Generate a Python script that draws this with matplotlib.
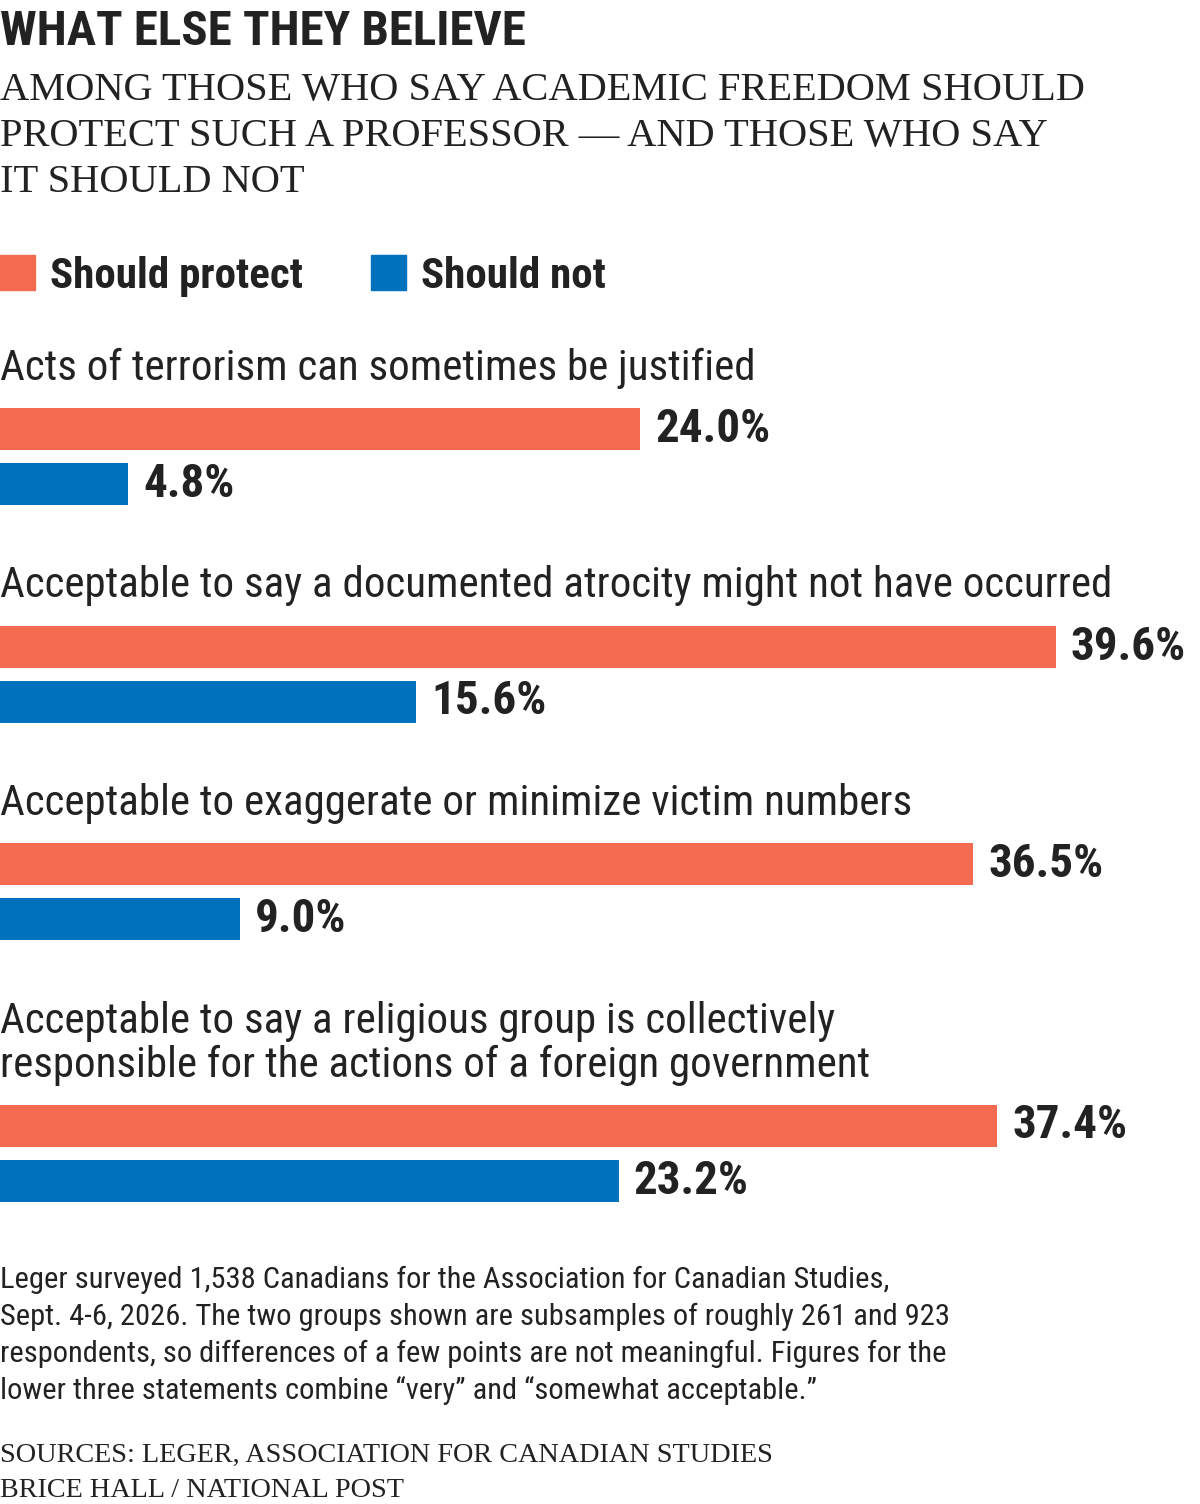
import matplotlib
matplotlib.use("Agg")
import matplotlib.pyplot as plt
from matplotlib.patches import Rectangle

# data
categories = [
    "Acts of terrorism can sometimes be justified",
    "Acceptable to say a documented atrocity might not have occurred",
    "Acceptable to exaggerate or minimize victim numbers",
    "Acceptable to say a religious group is collectively\nresponsible for the actions of a foreign government",
]
should_protect = [24.0, 39.6, 36.5, 37.4]
should_not = [4.8, 15.6, 9.0, 23.2]
series_names = ["Should protect", "Should not"]

ORANGE = "#F26A4F"
BLUE = "#0071BC"
INK = "#222222"
SANS = ["Roboto Condensed", "Liberation Sans Narrow", "DejaVu Sans"]
SERIF = ["Liberation Serif", "DejaVu Serif"]

W, H = 1200, 1504
fig = plt.figure(figsize=(W / 100, H / 100), dpi=100)
fig.patch.set_facecolor("white")


def fy(y):
    return 1 - y / H


def fx(x):
    return x / W


def pt(px):
    return px * 72 / 100


# title block
fig.text(0, fy(45), "WHAT ELSE THEY BELIEVE", family=SANS, weight="heavy",
         fontsize=pt(49), color=INK, va="baseline")
sub = ["AMONG THOSE WHO SAY ACADEMIC FREEDOM SHOULD",
       "PROTECT SUCH A PROFESSOR \u2014 AND THOSE WHO SAY",
       "IT SHOULD NOT"]
for i, line in enumerate(sub):
    fig.text(0, fy(100 + 46 * i), line, family=SERIF, fontsize=pt(40.5),
             color=INK, va="baseline")

# legend
for x0, name, col in [(0, series_names[0], ORANGE), (371, series_names[1], BLUE)]:
    fig.patches.append(Rectangle((fx(x0), fy(290)), 35 / W, 35 / H,
                                 transform=fig.transFigure, color=col))
    fig.text(fx(x0 + 50), fy(288), name, family=SANS, weight="bold",
             fontsize=pt(43), color=INK, va="baseline")

# bars: one axes over the whole figure, x in percent, y in pixels
ax = fig.add_axes([0, 0, 1, 1])
ax.set_xlim(0, 45)
ax.set_ylim(H, 0)
ax.axis("off")

bar_h = 42
top = 408
extra = 0
for i, cat in enumerate(categories):
    extra += cat.count("\n") * 44
    t = top + 217.5 * i + extra
    lines = cat.split("\n")
    for j, line in enumerate(lines):
        ax.text(0, t - 28 - 44 * (len(lines) - 1 - j), line, family=SANS,
                fontsize=pt(43), color=INK, va="baseline")
    yo = t + bar_h / 2
    yb = yo + 55
    ax.barh(yo, should_protect[i], height=bar_h, color=ORANGE, left=0)
    ax.barh(yb, should_not[i], height=bar_h, color=BLUE, left=0)
    for y, v in [(yo, should_protect[i]), (yb, should_not[i])]:
        ax.text(v + 0.56, y, f"{v:.1f}%", family=SANS, weight="bold",
                fontsize=pt(47), color=INK, va="center")

# footnote
notes = [
    "Leger surveyed 1,538 Canadians for the Association for Canadian Studies,",
    "Sept. 4-6, 2026. The two groups shown are subsamples of roughly 261 and 923",
    "respondents, so differences of a few points are not meaningful. Figures for the",
    "lower three statements combine \u201cvery\u201d and \u201csomewhat acceptable.\u201d",
]
for i, line in enumerate(notes):
    fig.text(0, fy(1288 + 37 * i), line, family=SANS, fontsize=pt(30.5),
             color=INK, va="baseline")

fig.text(0, fy(1462), "SOURCES: LEGER, ASSOCIATION FOR CANADIAN STUDIES",
         family=SERIF, fontsize=pt(28.2), color=INK, va="baseline")
fig.text(0, fy(1497), "BRICE HALL / NATIONAL POST", family=SERIF,
         fontsize=pt(28.2), color=INK, va="baseline")

fig.savefig("out.png", dpi=100)
